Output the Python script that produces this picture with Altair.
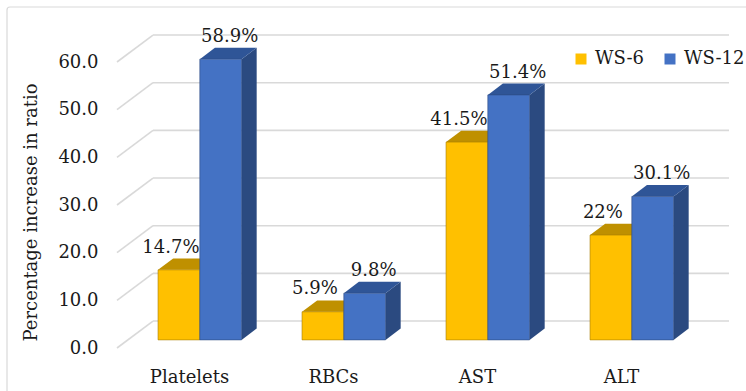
import json

import altair as alt
import pandas as pd

# ---- data -------------------------------------------------------------
categories = ["Platelets", "RBCs", "AST", "ALT"]
series = ["WS-6", "WS-12"]
ws6 = [14.7, 5.9, 41.5, 22]
ws12 = [58.9, 9.8, 51.4, 30.1]
y_ticks = [0, 10, 20, 30, 40, 50, 60]

# ---- style ------------------------------------------------------------
FONT = "DejaVu Serif"
FONT_SIZE = 18
TEXT_COLOR = "#1a1a1a"
GRID_COLOR = "#D9D9D9"
front_colors = ["#FFC000", "#4472C4"]
top_colors = ["#BF9000", "#2F5597"]
side_colors = ["#A67C00", "#2B4A80"]
label_dx = [-8, 9]

# oblique projection of the depth axis (x in category units, y in value units)
DEPTH_X = 0.25
DEPTH_Y = 5.66
T_FRONT, T_BACK = 0.30, 0.72
BAR_W = 0.29

values = {"WS-6": ws6, "WS-12": ws12}

front_rows, side_rows, top_rows = [], [], []
for j, s in enumerate(series):
    for i, cat in enumerate(categories):
        v = values[s][i]
        c = i + 0.5
        xl = c - BAR_W if j == 0 else c
        xr = xl + BAR_W
        bar_id = f"{s}|{cat}"
        front_rows.append({
            "series": s, "category": cat,
            "x": xl + T_FRONT * DEPTH_X, "x2": xr + T_FRONT * DEPTH_X,
            "y": T_FRONT * DEPTH_Y, "y2": v + T_FRONT * DEPTH_Y,
            "lx": (xl + xr) / 2 + T_FRONT * DEPTH_X,
            "ly": v + T_BACK * DEPTH_Y,
            "label": f"{v:g}%",
        })
        for t in (T_FRONT, T_BACK):
            side_rows.append({
                "series": s, "bar": bar_id,
                "x": xr + t * DEPTH_X,
                "y": t * DEPTH_Y, "y2": v + t * DEPTH_Y,
            })
            top_rows.append({
                "series": s, "bar": bar_id,
                "y": v + t * DEPTH_Y,
                "x": xl + t * DEPTH_X, "x2": xr + t * DEPTH_X,
            })

grid_rows = []
for v in y_ticks:
    # slanted segment on the side wall, then the line along the back wall
    grid_rows.append({"x": 0, "x2": DEPTH_X, "y": v, "y2": v + DEPTH_Y})
    grid_rows.append({"x": DEPTH_X, "x2": len(categories) + DEPTH_X,
                      "y": v + DEPTH_Y, "y2": v + DEPTH_Y})

front_df = pd.DataFrame(front_rows)
side_df = pd.DataFrame(side_rows)
top_df = pd.DataFrame(top_rows)
grid_df = pd.DataFrame(grid_rows)

xs = alt.Scale(domain=[0, len(categories)], nice=False, zero=False)
ys = alt.Scale(domain=[0, 60], nice=False, zero=False)

cat_expr = json.dumps(categories) + "[floor(datum.value)]"

x_axis = alt.Axis(
    values=[i + 0.5 for i in range(len(categories))],
    labelExpr=cat_expr, title=None, domain=False, ticks=False, tickSize=0,
    grid=False, labelFont=FONT, labelFontSize=FONT_SIZE, labelColor=TEXT_COLOR,
    labelBaseline="alphabetic", labelPadding=34, labelFlush=False,
)
y_axis = alt.Axis(
    values=y_ticks, format=".1f", title="Percentage increase in ratio",
    domain=False, ticks=False, tickSize=0, grid=False,
    labelFont=FONT, labelFontSize=FONT_SIZE, labelColor=TEXT_COLOR,
    labelPadding=19,
    titleFont=FONT, titleFontSize=FONT_SIZE, titleFontWeight="normal",
    titleColor=TEXT_COLOR, titleX=-86, titleY=150, titleAngle=270,
    titleAlign="center", titleBaseline="middle",
)


def X(field, **kw):
    return alt.X(field, type="quantitative", scale=xs, axis=x_axis, **kw)


def Y(field, **kw):
    return alt.Y(field, type="quantitative", scale=ys, axis=y_axis, **kw)


# outer frame
frame = alt.Chart(pd.DataFrame({"k": [0]})).mark_rect(
    fillOpacity=0, stroke=GRID_COLOR, strokeWidth=1.2, cornerRadius=3
).encode(
    x=alt.value(-110), x2=alt.value(640), y=alt.value(-55), y2=alt.value(340)
)

grid = alt.Chart(grid_df).mark_rule(color=GRID_COLOR, strokeWidth=1.6).encode(
    x=X("x"), x2="x2:Q", y=Y("y"), y2="y2:Q",
)

layers = [frame, grid]
color_enc = alt.Color(
    "series:N",
    scale=alt.Scale(domain=series, range=front_colors),
    legend=alt.Legend(
        title=None, orient="none", direction="horizontal",
        legendX=455, legendY=-12, symbolType="square", symbolSize=121,
        symbolStrokeWidth=0, labelFont=FONT, labelFontSize=FONT_SIZE,
        labelColor=TEXT_COLOR, labelOffset=5, columnPadding=16, padding=0,
    ),
)

for j, s in enumerate(series):
    front = alt.Chart(front_df[front_df.series == s]).mark_rect(
        stroke=side_colors[j], strokeWidth=0.6
    ).encode(
        x=X("x"), x2="x2:Q", y=Y("y"), y2="y2:Q", color=color_enc,
    )
    side = alt.Chart(side_df[side_df.series == s]).mark_area(
        color=side_colors[j], orient="vertical"
    ).encode(
        x=X("x"), y=Y("y", stack=None), y2="y2:Q", detail="bar:N",
    )
    top = alt.Chart(top_df[top_df.series == s]).mark_area(
        color=top_colors[j], orient="horizontal"
    ).encode(
        y=Y("y"), x=X("x", stack=None), x2="x2:Q", detail="bar:N",
    )
    layers += [side, top, front]

for j, s in enumerate(series):
    labels = alt.Chart(front_df[front_df.series == s]).mark_text(
        font=FONT, fontSize=FONT_SIZE, color=TEXT_COLOR, baseline="alphabetic",
        align="center", dx=label_dx[j], dy=-6,
    ).encode(
        x=X("lx"), y=Y("ly"), text="label:N",
    )
    layers.append(labels)

chart = alt.layer(*layers).properties(
    width=576,
    height=286,
    autosize=alt.AutoSizeParams(type="none"),
    padding={"left": 117, "top": 62, "right": 53, "bottom": 43},
    background="white",
).configure_view(stroke=None)

chart.save("out.html", embed_options={"renderer": "svg", "actions": False})
